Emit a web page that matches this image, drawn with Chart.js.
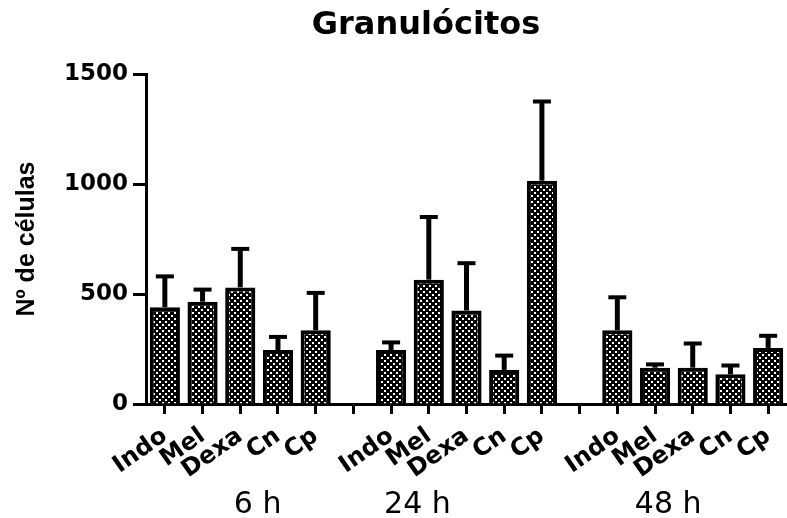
<!DOCTYPE html>
<html>
<head>
<meta charset="utf-8">
<script src="https://cdn.jsdelivr.net/npm/chart.js@4"></script>
<style>
  html, body { margin: 0; padding: 0; background: #fff; }
  #wrap { width: 787px; height: 518px; position: relative; }
</style>
</head>
<body>
<div id="wrap"><canvas id="chart"></canvas></div>
<script>
// ---------------- Data ----------------
const categories = ['Indo', 'Mel', 'Dexa', 'Cn', 'Cp', '', 'Indo', 'Mel', 'Dexa', 'Cn', 'Cp', '', 'Indo', 'Mel', 'Dexa', 'Cn', 'Cp'];
const means = [440, 465, 530, 245, 335, null, 245, 565, 425, 155, 1015, null, 335, 165, 165, 135, 255];
const errors = [140, 55, 175, 60, 170, null, 35, 285, 215, 65, 360, null, 150, 15, 110, 40, 55];
const groupLabels = ['6 h', '24 h', '48 h'];
const yTicks = [0, 500, 1000, 1500];

// ---------------- Checker pattern for bars ----------------
function makePattern() {
  const c = document.createElement('canvas');
  c.width = 6; c.height = 6;
  const g = c.getContext('2d');
  g.fillStyle = '#000';
  g.fillRect(0, 0, 6, 6);
  g.fillStyle = '#fff';
  g.fillRect(0, 0, 2, 2);
  g.fillRect(3, 3, 2, 2);
  return g.createPattern(c, 'repeat');
}

// ---------------- Error bars (upper only) ----------------
const errorBars = {
  id: 'errorBars',
  afterDatasetsDraw(chart) {
    const ctx = chart.ctx;
    const meta = chart.getDatasetMeta(0);
    const y = chart.scales.y;
    ctx.save();
    ctx.strokeStyle = '#000';
    meta.data.forEach((bar, i) => {
      if (means[i] == null) return;
      const yTop = y.getPixelForValue(means[i] + errors[i]);
      const yBar = y.getPixelForValue(means[i]);
      ctx.lineWidth = 5;
      ctx.beginPath();
      ctx.moveTo(bar.x, yBar);
      ctx.lineTo(bar.x, yTop);
      ctx.stroke();
      ctx.lineWidth = 4;
      ctx.beginPath();
      ctx.moveTo(bar.x - 9, yTop);
      ctx.lineTo(bar.x + 9, yTop);
      ctx.stroke();
    });
    ctx.restore();
  }
};

// ---------------- Title + group labels ----------------
const extraText = {
  id: 'extraText',
  afterDraw(chart, args, opts) {
    const ctx = chart.ctx;
    const x = chart.scales.x;
    ctx.save();
    ctx.fillStyle = '#000';
    ctx.textAlign = 'center';
    ctx.textBaseline = 'alphabetic';
    ctx.font = 'bold 32px "DejaVu Sans"';
    ctx.fillText('Granulócitos', 426, 34);
    ctx.font = '30px "DejaVu Sans"';
    groupLabels.forEach((t, k) => {
      const p = opts.groupAt[k];
      const px = x.getPixelForValue(Math.floor(p)) + (p % 1) * (x.getPixelForValue(1) - x.getPixelForValue(0));
      ctx.fillText(t, px, 513);
    });
    ctx.restore();
  }
};

const ctx = document.getElementById('chart').getContext('2d');
new Chart(ctx, {
  type: 'bar',
  data: {
    labels: categories,
    datasets: [{
      data: means,
      backgroundColor: makePattern(),
      borderColor: '#000',
      borderWidth: 4,
      borderSkipped: 'bottom',
      barPercentage: 0.8,
      categoryPercentage: 1
    }]
  },
  options: {
    responsive: true,
    maintainAspectRatio: false,
    animation: false,
    layout: { padding: { top: 74, left: 0, right: 0, bottom: 0 } },
    plugins: {
      legend: { display: false },
      tooltip: { enabled: false },
      extraText: { groupAt: [2.46, 6.7, 13.35] }
    },
    scales: {
      x: {
        afterFit: s => { s.height = 114; s.paddingLeft = 0; s.paddingRight = 0; },
        grid: { drawOnChartArea: false, offset: false, tickLength: 10, tickWidth: 3, tickColor: '#000' },
        border: { display: true, color: '#000', width: 3 },
        ticks: {
          color: '#000',
          font: { family: 'DejaVu Sans', weight: 'bold', size: 24 },
          minRotation: 35,
          maxRotation: 35,
          autoSkip: false,
          padding: 8
        }
      },
      y: {
        min: 0,
        max: 1500,
        afterFit: s => { s.width = 146; },
        afterBuildTicks: s => { s.ticks = yTicks.map(v => ({ value: v })); },
        grid: { drawOnChartArea: false, tickLength: 13, tickWidth: 3, tickColor: '#000' },
        border: { display: true, color: '#000', width: 3 },
        ticks: {
          color: '#000',
          font: { family: 'DejaVu Sans', weight: 'bold', size: 23 },
          padding: 5,
          callback: v => String(v)
        },
        title: {
          display: true,
          text: 'Nº de células',
          color: '#000',
          font: { family: 'Liberation Sans', weight: 'bold', size: 25 },
          padding: { top: 12, bottom: 0 }
        }
      }
    }
  },
  plugins: [errorBars, extraText]
});
</script>
</body>
</html>
